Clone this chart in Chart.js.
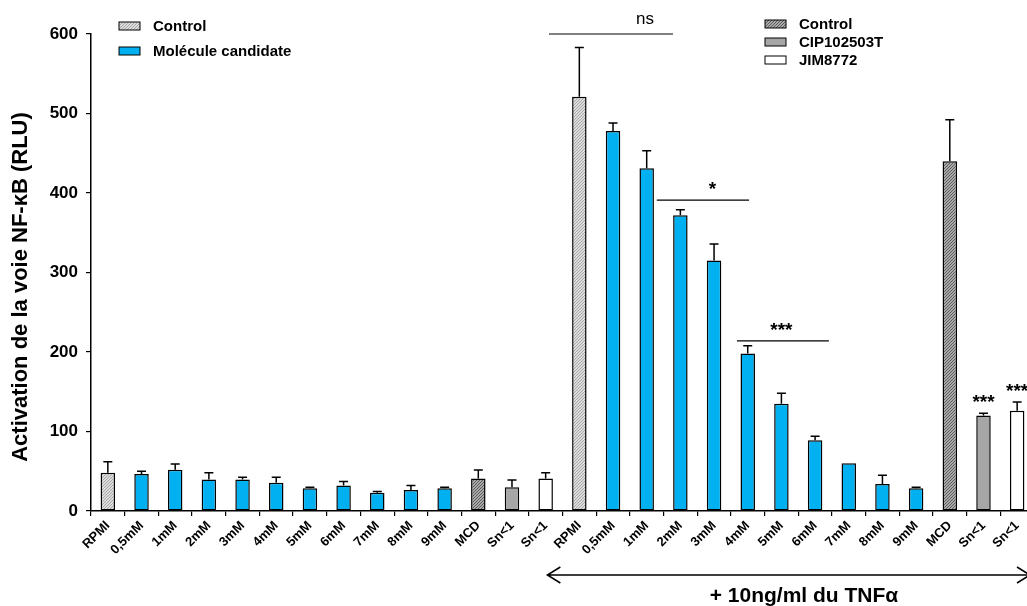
<!DOCTYPE html>
<html>
<head>
<meta charset="utf-8">
<script src="https://cdn.jsdelivr.net/npm/chart.js@4.4.0/dist/chart.umd.min.js"></script>
<style>
    body { margin: 0; overflow: hidden; background: #fff; }
    #wrap { width: 1045px; height: 606px; }
</style>
</head>
<body>
<div id="wrap"><canvas id="ChartNFkB" width="1045" height="606"></canvas></div>
<script>
// Data
const labels = ['RPMI', '0,5mM', '1mM', '2mM', '3mM', '4mM', '5mM', '6mM', '7mM', '8mM', '9mM', 'MCD', 'Sn<1', 'Sn<1',
                'RPMI', '0,5mM', '1mM', '2mM', '3mM', '4mM', '5mM', '6mM', '7mM', '8mM', '9mM', 'MCD', 'Sn<1', 'Sn<1'];
const values = [48, 46.5, 52, 39.5, 39.5, 35.5, 28.5, 32, 23, 26.5, 28.5, 41, 30, 41,
                521, 478, 431, 372, 315, 198, 135, 89, 60, 34, 28.5, 440, 120, 126];
const errors = [14, 3.5, 7, 8.5, 3, 7, 1.5, 5, 1.5, 5.5, 1.5, 10.5, 9, 7,
                62, 10, 22, 7, 21, 10, 13, 5, 0, 11, 1.5, 52, 3, 11];
const kinds = ['rpmi', 'cand', 'cand', 'cand', 'cand', 'cand', 'cand', 'cand', 'cand', 'cand', 'cand', 'mcd', 'cip', 'jim',
               'rpmi', 'cand', 'cand', 'cand', 'cand', 'cand', 'cand', 'cand', 'cand', 'cand', 'cand', 'mcd', 'cip', 'jim'];
const yTicks = [0, 100, 200, 300, 400, 500, 600];

// significance brackets: [from index, to index, value, text, text index]
const sigLines = [
    [13.1, 16.78, 600, 'ns', 15.95],
    [16.3, 19.04, 391, '*', 17.95],
    [18.68, 21.41, 214, '***', 20.0]
];
const starBars = [26, 27];

// small tiles for the textured bars
function tile(size, base, dot, cells) {
    const c = document.createElement('canvas');
    c.width = size; c.height = size;
    const g = c.getContext('2d');
    g.fillStyle = base;
    g.fillRect(0, 0, size, size);
    g.fillStyle = dot;
    cells.forEach(p => g.fillRect(p[0], p[1], 1, 1));
    return c;
}
const ctx0 = document.getElementById('ChartNFkB').getContext('2d');
const fills = {
    rpmi: ctx0.createPattern(tile(3, '#dcdcdc', '#a8a8a8', [[0, 0], [2, 1], [1, 2]]), 'repeat'),
    mcd: ctx0.createPattern(tile(3, '#a9a9a9', '#5c5c5c', [[0, 2], [1, 1], [2, 0]]), 'repeat'),
    cand: '#00b0f0',
    cip: '#a6a6a6',
    jim: '#ffffff'
};

const FONT = 'Liberation Sans, Arial, sans-serif';

// Error bars, brackets, legends, titles
const extras = {
    id: 'extras',
    afterDatasetsDraw(chart) {
        const ctx = chart.ctx;
        const x = chart.scales.x;
        const y = chart.scales.y;
        const meta = chart.getDatasetMeta(0);
        ctx.save();
        ctx.strokeStyle = '#000';
        ctx.lineWidth = 1.5;
        // error bars
        meta.data.forEach((bar, i) => {
            if (!errors[i]) return;
            const top = y.getPixelForValue(values[i] + errors[i]);
            ctx.beginPath();
            ctx.moveTo(bar.x, bar.y);
            ctx.lineTo(bar.x, top);
            ctx.moveTo(bar.x - 4.5, top);
            ctx.lineTo(bar.x + 4.5, top);
            ctx.stroke();
        });
        // significance
        ctx.lineWidth = 1.2;
        ctx.fillStyle = '#000';
        ctx.textAlign = 'center';
        ctx.textBaseline = 'middle';
        for (const s of sigLines) {
            const py = y.getPixelForValue(s[2]);
            ctx.beginPath();
            ctx.moveTo(x.getPixelForValue(s[0]), py);
            ctx.lineTo(x.getPixelForValue(s[1]), py);
            ctx.stroke();
            ctx.font = s[3] === 'ns' ? '17px ' + FONT : 'bold 19px ' + FONT;
            ctx.fillText(s[3], x.getPixelForValue(s[4]), py - (s[3] === 'ns' ? 15 : 10));
        }
        for (const i of starBars) {
            ctx.font = 'bold 19px ' + FONT;
            ctx.fillText('***', x.getPixelForValue(i), y.getPixelForValue(values[i] + errors[i]) - 10);
        }
        // legends
        ctx.textAlign = 'left';
        ctx.font = 'bold 15px ' + FONT;
        ctx.lineWidth = 1;
        const legend = (lx, ly, fill, text) => {
            ctx.fillStyle = fill;
            ctx.fillRect(lx, ly - 4, 21, 8);
            ctx.strokeRect(lx, ly - 4, 21, 8);
            ctx.fillStyle = '#000';
            ctx.fillText(text, lx + 34, ly + 1);
        };
        legend(119, 26, fills.rpmi, 'Control');
        legend(119, 51, fills.cand, 'Molécule candidate');
        legend(765, 24, fills.mcd, 'Control');
        legend(765, 42, fills.cip, 'CIP102503T');
        legend(765, 60, fills.jim, 'JIM8772');
        // y title
        ctx.save();
        ctx.translate(21, 287);
        ctx.rotate(-Math.PI / 2);
        ctx.textAlign = 'center';
        ctx.font = 'bold 22px ' + FONT;
        ctx.fillText('Activation de la voie NF-\u03baB (RLU)', 0, 0);
        ctx.restore();
        // TNF arrow
        const ax0 = x.getPixelForValue(13.05);
        const ax1 = chart.chartArea.right - 4;
        const ay = 575;
        ctx.lineWidth = 1.5;
        ctx.beginPath();
        ctx.moveTo(ax0, ay); ctx.lineTo(ax1, ay);
        ctx.moveTo(ax0 + 13, ay - 8); ctx.lineTo(ax0, ay); ctx.lineTo(ax0 + 13, ay + 8);
        ctx.moveTo(ax1 - 13, ay - 8); ctx.lineTo(ax1, ay); ctx.lineTo(ax1 - 13, ay + 8);
        ctx.stroke();
        ctx.textAlign = 'center';
        ctx.font = 'bold 21px ' + FONT;
        ctx.fillText('+ 10ng/ml du TNF\u03b1', 804, 596);
        ctx.restore();
    }
};

new Chart(ctx0, {
    type: 'bar',
    data: {
        labels: labels,
        datasets: [{
            data: values,
            backgroundColor: kinds.map(k => fills[k]),
            borderColor: '#000',
            borderWidth: 1.5,
            borderSkipped: false,
            categoryPercentage: 1,
            barPercentage: 0.43
        }]
    },
    options: {
        responsive: false,
        animation: false,
        layout: { padding: { top: 34, right: 11, left: 0, bottom: 0 } },
        plugins: {
            legend: { display: false },
            tooltip: { enabled: false },
            title: { display: false }
        },
        scales: {
            x: {
                afterFit: s => { s.height = 95; },
                grid: { display: true, drawOnChartArea: false, offset: true, color: '#000', lineWidth: 1.2, tickLength: 5 },
                border: { color: '#000', width: 1.5 },
                ticks: {
                    autoSkip: false, minRotation: 45, maxRotation: 45, padding: 2,
                    color: '#000', font: { family: FONT, size: 13, weight: 'bold' }
                }
            },
            y: {
                min: 0, max: 600,
                afterFit: s => { s.width = 91; },
                afterBuildTicks: s => { s.ticks = yTicks.map(v => ({ value: v })); },
                grid: { display: true, drawOnChartArea: false, color: '#000', lineWidth: 1.2, tickLength: 5 },
                border: { color: '#000', width: 1.5 },
                ticks: { padding: 8, color: '#000', font: { family: FONT, size: 17, weight: 'bold' } }
            }
        }
    },
    plugins: [extras]
});
</script>
</body>
</html>
